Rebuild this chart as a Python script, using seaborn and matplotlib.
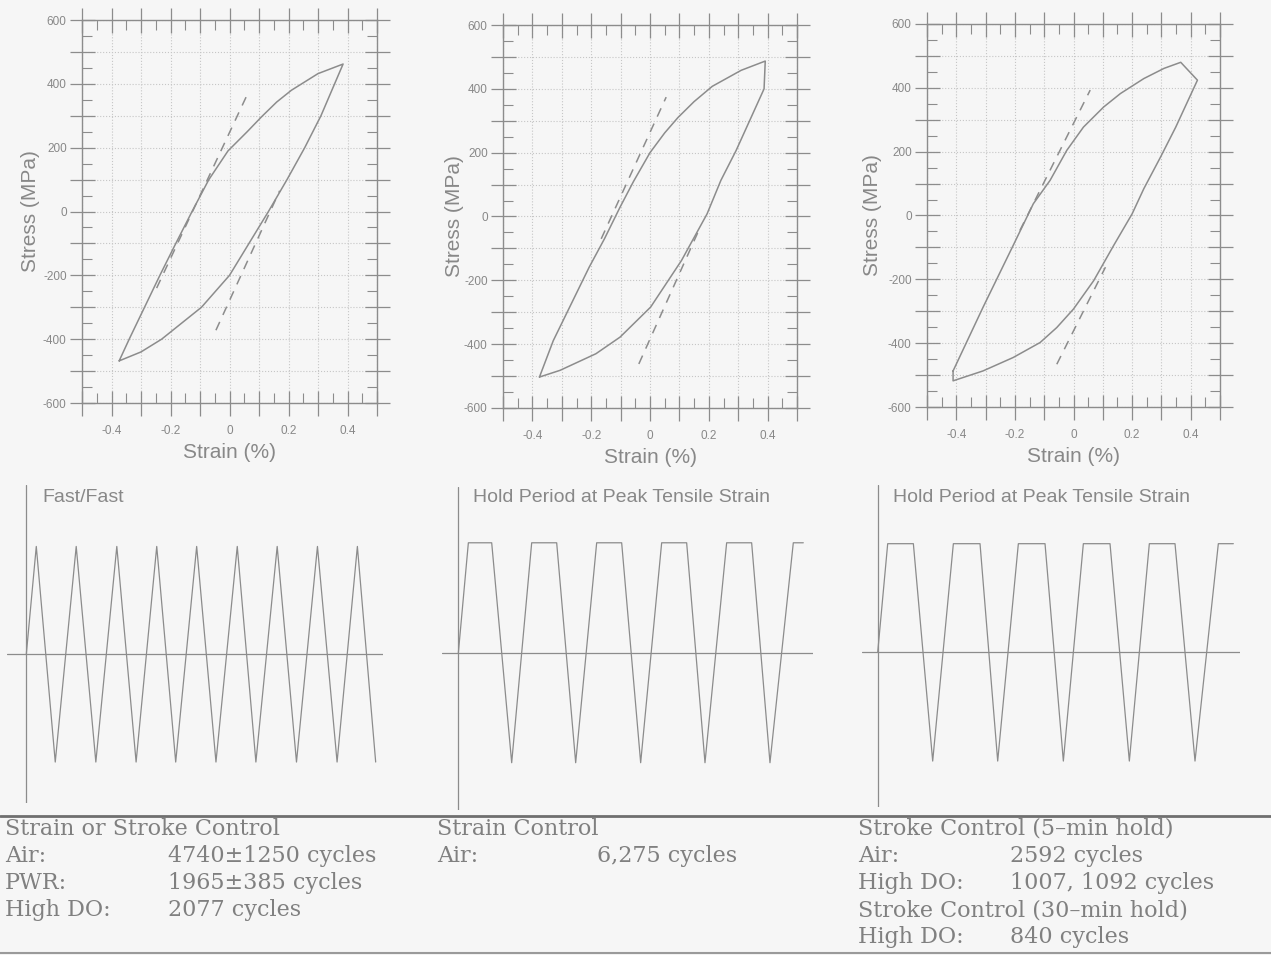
import numpy as np
import pandas as pd
import matplotlib
matplotlib.use("Agg")
import matplotlib.pyplot as plt
from matplotlib.lines import Line2D
from matplotlib.ticker import MultipleLocator, FuncFormatter
import seaborn as sns

# hysteresis loops, strain (%) and stress (MPa), traced once round each loop
fast_strain = [-0.374, -0.340, -0.288, -0.236, -0.182, -0.127, -0.070, -0.005, 0.060, 0.110, 0.160, 0.210,
               0.300, 0.385, 0.310, 0.255, 0.195, 0.132, 0.066, 0.000, -0.095, -0.230, -0.300, -0.374]
fast_stress = [-468, -400, -300, -200, -100, 0, 100, 190, 250, 298, 343, 380,
               432, 462, 300, 200, 100, 0, -100, -200, -300, -400, -440, -468]

hold_strain = [-0.376, -0.329, -0.207, -0.155, -0.102, -0.056, 0.000, 0.050, 0.095, 0.150, 0.212, 0.310, 0.392,
               0.388, 0.293, 0.241, 0.194, 0.107, 0.002, -0.102, -0.184, -0.306, -0.376]
hold_stress = [-503, -389, -159, -70, 29, 110, 200, 262, 310, 360, 408, 458, 487,
               400, 207, 113, 8, -138, -284, -378, -430, -482, -503]

stroke_strain = [-0.411, -0.309, -0.206, -0.137, -0.080, -0.023, 0.034, 0.103, 0.160, 0.240, 0.309, 0.366,
                 0.423, 0.349, 0.297, 0.240, 0.200, 0.137, 0.069, 0.000, -0.057, -0.114, -0.206, -0.309,
                 -0.411, -0.411]
stroke_stress = [-487, -288, -94, 37, 110, 204, 277, 340, 382, 429, 461, 480,
                 424, 277, 183, 84, 5, -94, -204, -293, -351, -398, -445, -487,
                 -518, -487]

# dashed elastic lines: (strain0, stress0, strain1, stress1)
fast_elastic = [(-0.247, -240, 0.057, 360), (-0.046, -372, 0.170, 65)]
hold_elastic = [(-0.166, -70, 0.055, 374), (-0.038, -462, 0.171, -33)]
stroke_elastic = [(-0.183, -47, 0.057, 393), (-0.057, -466, 0.109, -162)]

# strain waveforms (time in arbitrary units, normalised strain)
fast_t = [0, 30, 87, 150, 209, 272, 330, 392, 449, 512, 570, 634, 690, 754, 812, 875, 934, 995, 1050]
fast_v = [0, 1, -1, 1, -1, 1, -1, 1, -1, 1, -1, 1, -1, 1, -1, 1, -1, 1, -1]
hold1_t = [0, 30, 100, 160, 220, 295, 352, 415, 490, 547, 610, 685, 740, 805, 880, 935, 1005, 1035]
hold1_v = [0, 1, 1, -1, 1, 1, -1, 1, 1, -1, 1, 1, -1, 1, 1, -1, 1, 1]
hold2_t = [0, 30, 107, 165, 227, 307, 360, 422, 502, 557, 617, 697, 755, 815, 892, 952, 1022, 1067]
hold2_v = [0, 1, 1, -1, 1, 1, -1, 1, 1, -1, 1, 1, -1, 1, 1, -1, 1, 1]

wave_titles = ["Fast/Fast", "Hold Period at Peak Tensile Strain", "Hold Period at Peak Tensile Strain"]

# fatigue lives table
col1_rows = [("Strain or Stroke Control", ""), ("Air:", "4740\u00b11250 cycles"),
             ("PWR:", "1965\u00b1385 cycles"), ("High DO:", "2077 cycles")]
col2_rows = [("Strain Control", ""), ("Air:", "6,275 cycles")]
col3_rows = [("Stroke Control (5\u2013min hold)", ""), ("Air:", "2592 cycles"),
             ("High DO:", "1007, 1092 cycles"), ("Stroke Control (30\u2013min hold)", ""),
             ("High DO:", "840 cycles")]

BG = "#f6f6f6"
LINE = "#8c8c8c"
TXT = "#888888"
TAB = "#808080"
W, H = 1271, 955

sns.set_theme(style="white")
plt.rcParams['font.family'] = ['Liberation Sans', 'DejaVu Sans']

fig = plt.figure(figsize=(W / 100, H / 100), dpi=100, facecolor=BG)


def px_axes(x0, y0, x1, y1):
    ax = fig.add_axes([x0 / W, 1 - y1 / H, (x1 - x0) / W, (y1 - y0) / H])
    ax.set_facecolor("none")
    return ax


def xfmt(v, p):
    if abs(v) < 1e-9:
        return "0"
    if abs(round(v * 10)) % 2 == 0 and abs(v) < 0.45:
        return f"{v:g}"
    return ""


def yfmt(v, p):
    v = int(round(v))
    return str(v) if v % 200 == 0 else ""


def draw_loop(ax, strain, stress, elastic, ylab_x):
    sns.lineplot(x=strain, y=stress, sort=False, estimator=None, color=LINE, lw=1.1, ax=ax)
    for x0, y0, x1, y1 in elastic:
        sns.lineplot(x=[x0, x1], y=[y0, y1], sort=False, estimator=None, color=LINE,
                     lw=1.1, linestyle=(0, (6, 5)), ax=ax)
    ax.set_xlim(-0.5, 0.5)
    ax.set_ylim(-600, 600)
    ax.xaxis.set_major_locator(MultipleLocator(0.1))
    ax.xaxis.set_minor_locator(MultipleLocator(0.05))
    ax.yaxis.set_major_locator(MultipleLocator(100))
    ax.yaxis.set_minor_locator(MultipleLocator(50))
    ax.xaxis.set_major_formatter(FuncFormatter(xfmt))
    ax.yaxis.set_major_formatter(FuncFormatter(yfmt))
    ax.tick_params(which='major', direction='inout', length=18, width=0.9, color=LINE,
                   top=True, right=True, bottom=True, left=True, labelsize=8.5, labelcolor=TXT)
    ax.tick_params(which='minor', direction='in', length=7, width=0.8, color=LINE,
                   top=True, right=True, bottom=True, left=True)
    ax.tick_params(axis='x', pad=7)
    ax.tick_params(axis='y', pad=2)
    ax.grid(True, which='major', linestyle=':', linewidth=0.8, color='#c6c6c6')
    for s in ax.spines.values():
        s.set_color(LINE)
        s.set_linewidth(1.0)
    ax.set_xlabel("Strain (%)", fontsize=15, color=TXT)
    ax.set_ylabel("Stress (MPa)", fontsize=15, color=TXT)
    ax.xaxis.label.set_va('center')
    ax.yaxis.label.set_va('center')
    ax.xaxis.set_label_coords(0.5, -0.128)
    ax.yaxis.set_label_coords(ylab_x, 0.5)


ax1 = px_axes(82, 20, 377, 403)
draw_loop(ax1, fast_strain, fast_stress, fast_elastic, (31 - 82) / 295)
ax2 = px_axes(503, 25, 797, 408)
draw_loop(ax2, hold_strain, hold_stress, hold_elastic, (454 - 503) / 294)
ax3 = px_axes(927, 24, 1220, 407)
draw_loop(ax3, stroke_strain, stroke_stress, stroke_elastic, (872 - 927) / 293)


def draw_wave(box, xlim, ylim, t, v, title, title_x):
    ax = px_axes(*box)
    sns.lineplot(x=t, y=v, sort=False, estimator=None, color=LINE, lw=0.9, ax=ax)
    ax.axvline(0, color=LINE, lw=0.9)
    ax.axhline(0, color=LINE, lw=0.9)
    ax.set_xlim(*xlim)
    ax.set_ylim(*ylim)
    ax.axis('off')
    fig.text(title_x / W, 1 - 498 / H, title, fontsize=14, color=TXT, va='center', ha='left')


draw_wave((7, 485, 383, 803), (-58, 1072), (-1.38, 1.57), fast_t, fast_v, wave_titles[0], 42)
draw_wave((441.7, 486.7, 813.3, 810), (-50, 1065), (-1.43, 1.51), hold1_t, hold1_v, wave_titles[1], 473)
draw_wave((861.7, 485, 1240, 806.7), (-48, 1087), (-1.42, 1.54), hold2_t, hold2_v, wave_titles[2], 893)

# separators
fig.add_artist(Line2D([0, 1], [1 - 816 / H] * 2, transform=fig.transFigure, color='#6f6f6f', lw=2))
fig.add_artist(Line2D([0, 1], [1 - 953 / H] * 2, transform=fig.transFigure, color='#9a9a9a', lw=1.5))

row_y = [829, 856, 883, 910, 937]
for rows, lx, vx in [(col1_rows, 5, 168), (col2_rows, 437, 597), (col3_rows, 858, 1010)]:
    for i, (lab, val) in enumerate(rows):
        fig.text(lx / W, 1 - row_y[i] / H, lab, family='DejaVu Serif', fontsize=16,
                 color=TAB, va='center', ha='left')
        if val:
            fig.text(vx / W, 1 - row_y[i] / H, val, family='DejaVu Serif', fontsize=16,
                     color=TAB, va='center', ha='left')

fig.savefig("out.png", dpi=100, facecolor=BG)
